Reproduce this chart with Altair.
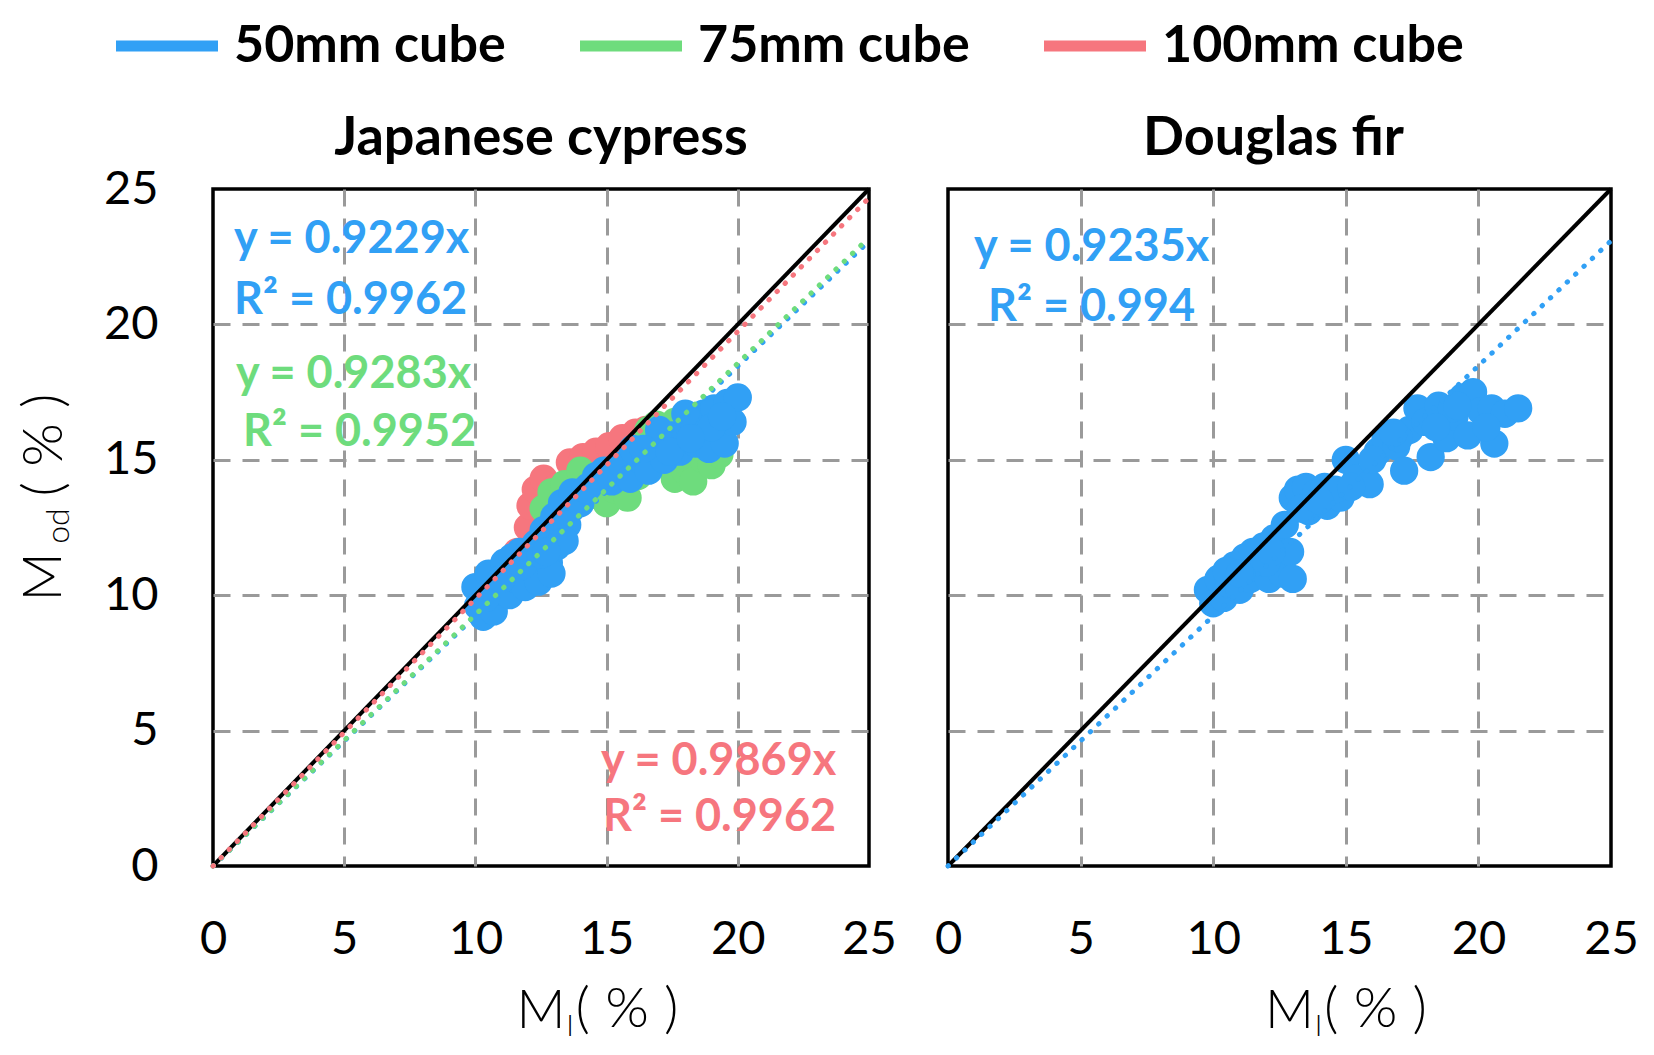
import altair as alt
import pandas as pd

FONT = "Lato"
SERIES = ["50mm cube", "75mm cube", "100mm cube"]
COLORS = ["#31A0F5", "#6EDC7D", "#F6767E"]
TICKS = [0, 5, 10, 15, 20, 25]

# ---- Japanese cypress ----
jc50_x = [10.0, 10.1, 10.3, 10.5, 10.7, 10.9, 11.1, 11.3, 11.5, 11.7, 11.9, 12.1, 12.3, 12.4, 12.6,
          12.8, 12.9, 13.0, 13.1, 13.3, 13.5, 13.7, 14.0, 14.3, 14.6, 14.9, 15.2, 15.6, 15.9, 16.3,
          16.6, 16.9, 17.2, 17.5, 17.8, 18.1, 18.4, 18.7, 18.9, 19.1, 19.3, 19.5, 19.6, 19.8, 20.0,
          10.4, 11.0, 11.8, 12.5, 13.4, 14.2, 16.0, 17.0, 18.0, 19.0, 16.4, 17.4, 18.2, 19.4,
          11.4, 12.7]
jc50_y = [10.3, 9.6, 9.2, 10.8, 9.4, 10.2, 11.2, 10.0, 10.6, 11.6, 10.3, 11.0, 11.9, 10.5, 12.4,
          11.2, 10.8, 12.9, 11.8, 13.4, 12.6, 13.8, 13.4, 14.0, 14.4, 14.6, 14.2, 14.8, 14.3, 15.0,
          14.6, 15.6, 15.0, 15.9, 15.3, 16.3, 15.6, 16.7, 15.4, 16.9, 16.1, 15.6, 17.1, 16.4, 17.3,
          9.9, 10.6, 11.1, 11.5, 12.0, 13.9, 15.4, 16.1, 16.7, 16.2, 15.4, 15.3, 15.8, 16.6,
          11.4, 11.6]
jc75_x = [10.2, 10.8, 11.5, 12.0, 12.6, 12.9, 13.4, 14.0, 14.6, 15.0, 15.3, 15.8, 16.2, 16.6,
          16.9, 17.3, 17.6, 18.0, 18.3, 18.7, 19.0, 19.3, 17.6, 18.3]
jc75_y = [9.8, 10.5, 11.0, 11.5, 13.2, 13.8, 14.1, 14.6, 13.7, 13.4, 13.9, 13.6, 14.4, 16.1,
          16.3, 14.9, 14.3, 14.6, 14.2, 15.0, 14.8, 15.2, 16.4, 16.0]
jc100_x = [10.3, 11.0, 11.6, 12.0, 12.1, 12.3, 12.6, 13.1, 13.6, 14.1, 14.6, 15.1, 15.6, 16.1, 16.5]
jc100_y = [10.0, 10.8, 11.6, 12.5, 13.3, 13.9, 14.3, 14.0, 14.9, 15.1, 15.3, 15.5, 15.8, 16.0, 16.1]
jc_slopes = [0.9229, 0.9283, 0.9869]
jc_r2 = ["0.9962", "0.9952", "0.9962"]

# ---- Douglas fir ----
df50_x = [9.8, 10.0, 10.2, 10.4, 10.6, 10.8, 11.0, 11.2, 11.4, 11.7, 11.9, 12.1, 12.3, 12.4, 12.6,
          12.7, 12.9, 13.0, 13.0, 13.2, 13.5, 13.6, 13.9, 14.2, 14.3, 14.8, 15.0, 15.4, 15.9, 16.2,
          16.5, 16.9, 17.2, 17.4, 17.7, 18.0, 18.2, 18.5, 18.8, 19.1, 19.4, 19.6, 19.8, 20.1, 20.5,
          20.6, 21.0, 21.5, 11.5, 12.0, 14.6, 16.0, 17.0, 19.0, 10.5, 11.0, 12.2, 13.3, 14.0,
          15.2, 16.8, 18.4, 19.2, 20.3]
df50_y = [10.2, 9.7, 10.6, 9.9, 10.4, 11.1, 10.2, 11.4, 10.6, 11.0, 11.8, 10.6, 12.1, 11.3, 10.8,
          12.6, 11.6, 10.6, 13.6, 13.9, 14.0, 13.1, 13.8, 14.0, 13.3, 13.6, 15.0, 14.3, 14.1, 15.3,
          15.8, 15.5, 14.6, 16.1, 16.9, 16.4, 15.1, 17.0, 15.8, 16.6, 17.3, 15.9, 17.5, 16.8, 16.9,
          15.6, 16.7, 16.9, 11.6, 11.2, 13.9, 15.0, 15.8, 16.9, 10.9, 10.8, 11.6, 13.2, 13.5,
          14.0, 16.0, 16.2, 17.0, 16.2]
df_slopes = [0.9235]
df_r2 = ["0.994"]

PLOT_H = 677
# legend layout (pixels relative to the left panel's plot area)
LEG_X0, LEG_STEP, LEG_LEN, LEG_GAP, LEG_Y = -97, 464, 102, 16, -143


def points_frame(groups):
    rows = []
    for name, xs, ys in groups:
        for x, y in zip(xs, ys):
            rows.append({"series": name, "x": x, "y": y})
    return pd.DataFrame(rows)


def lines_frame(names, slopes):
    return pd.DataFrame({"series": names, "slope": slopes, "x0": 0, "x1": 25})


def panel(title, pts, fits, anns, width, left, title_dx, xt_dx):
    xsc = alt.Scale(domain=[0, 25], nice=False)
    ysc = alt.Scale(domain=[0, 25], nice=False)
    csc = alt.Scale(domain=SERIES, range=COLORS)
    grid_op = {"condition": {"test": "datum.value == 0 || datum.value == 25", "value": 0}, "value": 1}
    xax = alt.Axis(values=TICKS, title=None, labelFontSize=47, labelFont=FONT, labelColor="black",
                   labelPadding=50, ticks=False, domain=False, grid=True, gridDash=[17, 12],
                   gridColor="#9a9a9a", gridWidth=3, gridOpacity=grid_op, labelFlush=False)
    yax = alt.Axis(values=TICKS, title=None, labelFontSize=47, labelFont=FONT, labelColor="black",
                   labelPadding=55, ticks=False, domain=False, grid=True, gridDash=[17, 12],
                   gridColor="#9a9a9a", gridWidth=3, gridOpacity=grid_op, labels=left,
                   labelFlush=False)

    dots = alt.Chart(pts).mark_circle(size=800, opacity=1).encode(
        x=alt.X("x:Q", scale=xsc, axis=xax),
        y=alt.Y("y:Q", scale=ysc, axis=yax),
        fill=alt.Fill("series:N", scale=csc, legend=None),
    )

    ident = alt.Chart(pd.DataFrame({"a": [0], "b": [25]})).mark_rule(
        color="black", strokeWidth=4).encode(
        x=alt.X("a:Q", scale=xsc), y=alt.Y("a:Q", scale=ysc),
        x2="b:Q", y2="b:Q")

    fit = alt.Chart(fits).transform_calculate(y1="datum.slope * datum.x1").mark_rule(
        strokeWidth=5, strokeDash=[0.5, 11], strokeCap="round").encode(
        x=alt.X("x0:Q", scale=xsc), y=alt.Y("x0:Q", scale=ysc),
        x2="x1:Q", y2="y1:Q",
        color=alt.Color("series:N", scale=csc, legend=None),
    )

    ann_df = pd.DataFrame(anns)
    texts = alt.Chart(ann_df).mark_text(fontSize=45, font=FONT, fontWeight="bold", align="left",
                                        baseline="middle").encode(
        x=alt.X("px:Q", scale=None), y=alt.Y("py:Q", scale=None), text="label:N",
        color=alt.Color("col:N", scale=None))

    mx = width / 2 + xt_dx
    tx = [
        {"t": "M", "px": mx, "py": 823, "fs": 54, "ang": 0},
        {"t": "l", "px": mx + 29, "py": 838, "fs": 30, "ang": 0},
        {"t": "( % )", "px": mx + 86, "py": 821, "fs": 56, "ang": 0},
    ]
    if left:
        tx += [
            {"t": "M", "px": -168, "py": 388, "fs": 54, "ang": 270},
            {"t": "od", "px": -154, "py": 337, "fs": 32, "ang": 270},
            {"t": "( % )", "px": -168, "py": 256, "fs": 56, "ang": 270},
        ]
    tdf = pd.DataFrame(tx)
    titles = alt.Chart(tdf).mark_text(font=FONT, color="black", align="center",
                                      baseline="middle", fontWeight=300).encode(
        x=alt.X("px:Q", scale=None), y=alt.Y("py:Q", scale=None), text="t:N",
        size=alt.Size("fs:Q", scale=None, legend=None), angle=alt.Angle("ang:Q", scale=None))

    head = alt.Chart(pd.DataFrame({"t": [title]})).mark_text(
        font=FONT, fontSize=54, fontWeight="bold", color="black", align="center",
        baseline="middle").encode(x=alt.value(width / 2 + title_dx), y=alt.value(-50), text="t:N")

    layers = [dots, ident, fit, texts, titles, head]
    if left:
        leg_df = pd.DataFrame({"series": SERIES, "i": list(range(len(SERIES)))})
        leg_base = alt.Chart(leg_df).transform_calculate(
            xs=f"{LEG_X0} + datum.i * {LEG_STEP}",
            xe=f"{LEG_X0 + LEG_LEN} + datum.i * {LEG_STEP}",
            xt=f"{LEG_X0 + LEG_LEN + LEG_GAP} + datum.i * {LEG_STEP}")
        leg_sym = leg_base.mark_rule(strokeWidth=11).encode(
            x=alt.X("xs:Q", scale=None), x2="xe:Q", y=alt.value(LEG_Y),
            color=alt.Color("series:N", scale=csc, legend=None))
        leg_txt = leg_base.mark_text(font=FONT, fontSize=52, fontWeight="bold", color="black",
                                     align="left", baseline="middle").encode(
            x=alt.X("xt:Q", scale=None), y=alt.value(LEG_Y), text="series:N")
        layers += [leg_sym, leg_txt]

    return alt.layer(*layers).properties(width=width, height=PLOT_H)


jc_pts = points_frame([("100mm cube", jc100_x, jc100_y), ("75mm cube", jc75_x, jc75_y),
                       ("50mm cube", jc50_x, jc50_y)])
df_pts = points_frame([("50mm cube", df50_x, df50_y)])
jc_fit = lines_frame(SERIES, jc_slopes)
df_fit = lines_frame(SERIES[:1], df_slopes)

jc_ann = [
    {"label": f"y = {jc_slopes[0]}x", "px": 21, "py": 50, "col": COLORS[0]},
    {"label": f"R² = {jc_r2[0]}", "px": 21, "py": 111, "col": COLORS[0]},
    {"label": f"y = {jc_slopes[1]}x", "px": 23, "py": 185, "col": COLORS[1]},
    {"label": f"R² = {jc_r2[1]}", "px": 30, "py": 243, "col": COLORS[1]},
    {"label": f"y = {jc_slopes[2]}x", "px": 388, "py": 572, "col": COLORS[2]},
    {"label": f"R² = {jc_r2[2]}", "px": 390, "py": 628, "col": COLORS[2]},
]
df_ann = [
    {"label": f"y = {df_slopes[0]}x", "px": 26, "py": 58, "col": COLORS[0]},
    {"label": f"R² = {df_r2[0]}", "px": 40, "py": 118, "col": COLORS[0]},
]

left_panel = panel("Japanese cypress", jc_pts, jc_fit, jc_ann, 656, True, 0, 0)
right_panel = panel("Douglas fir", df_pts, df_fit, df_ann, 663, False, -6, 10)

chart = alt.hconcat(left_panel, right_panel, spacing=79, bounds="flush").resolve_scale(
    color="shared").properties(
    padding={"left": 7, "top": 10, "right": 5, "bottom": 5}).configure_view(
    stroke="black", strokeWidth=3.5)

chart.save("out.html", embed_options={"renderer": "svg", "actions": False})
